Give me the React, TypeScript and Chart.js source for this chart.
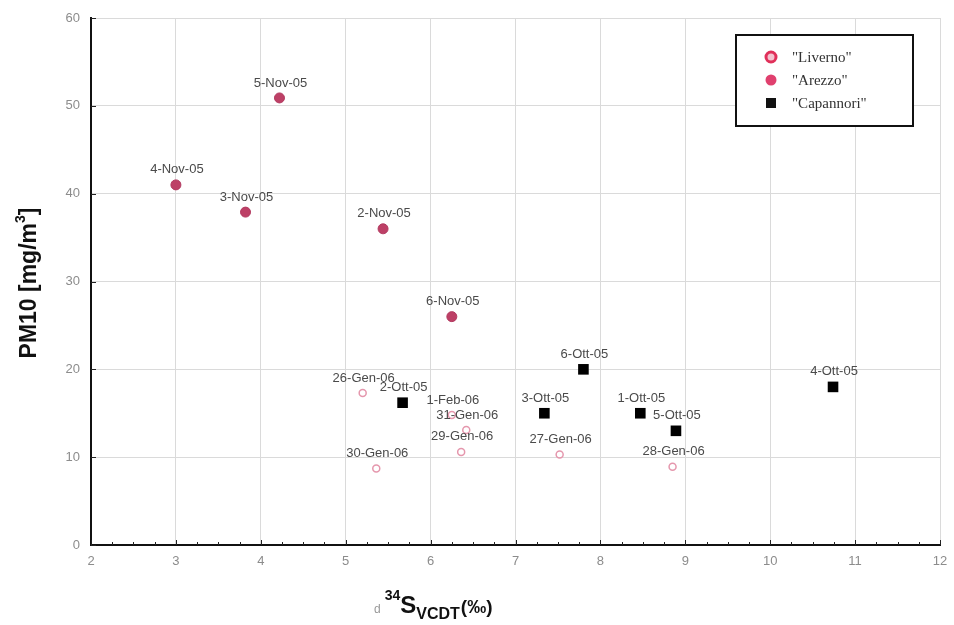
import React, { useEffect, useRef } from "react";
import { Chart, registerables } from "chart.js";

Chart.register(...registerables);

const livornoLabels = ["26-Gen-06", "30-Gen-06", "1-Feb-06", "31-Gen-06", "29-Gen-06", "27-Gen-06", "28-Gen-06"];
const livornoX = [5.2, 5.36, 6.25, 6.42, 6.36, 7.52, 8.85];
const livornoY = [17.3, 8.7, 14.8, 13.1, 10.6, 10.3, 8.9];

const arezzoLabels = ["5-Nov-05", "4-Nov-05", "3-Nov-05", "2-Nov-05", "6-Nov-05"];
const arezzoX = [4.22, 3.0, 3.82, 5.44, 6.25];
const arezzoY = [50.9, 41.0, 37.9, 36.0, 26.0];

const capannoriLabels = ["2-Ott-05", "6-Ott-05", "3-Ott-05", "1-Ott-05", "5-Ott-05", "4-Ott-05"];
const capannoriX = [5.67, 7.8, 7.34, 8.47, 8.89, 10.74];
const capannoriY = [16.2, 20.0, 15.0, 15.0, 13.0, 18.0];

const legendNames = ['"Liverno"', '"Arezzo"', '"Capannori"'];

const xMin = 2, xMax = 12, xStep = 1;
const yMin = 0, yMax = 60, yStep = 10;

const toPts = (xs: number[], ys: number[]) => xs.map((x, i) => ({ x, y: ys[i] }));

const SANS = "'Liberation Sans', Arial, sans-serif";

const overlayPlugin = {
  id: "overlay",
  afterDatasetsDraw(chart: any) {
    const ctx = chart.ctx;
    const xs = chart.scales.x;
    const ys = chart.scales.y;
    const area = chart.chartArea;
    ctx.save();
    ctx.strokeStyle = "#222";
    ctx.lineWidth = 1;
    for (let v = xMin; v <= xMax + 1e-9; v += 0.25) {
      const px = Math.round(xs.getPixelForValue(v)) + 0.5;
      const major = Math.abs(v - Math.round(v)) < 1e-9;
      ctx.beginPath();
      ctx.moveTo(px, area.bottom);
      ctx.lineTo(px, area.bottom - (major ? 5 : 3));
      ctx.stroke();
    }
    for (let v = yMin; v <= yMax + 1e-9; v += yStep) {
      const py = Math.round(ys.getPixelForValue(v)) + 0.5;
      ctx.beginPath();
      ctx.moveTo(area.left, py);
      ctx.lineTo(area.left + 5, py);
      ctx.stroke();
    }
    ctx.font = "13px " + SANS;
    ctx.fillStyle = "#4a4a4a";
    ctx.textAlign = "center";
    ctx.textBaseline = "middle";
    const groups: [string[], number[], number[]][] = [
      [livornoLabels, livornoX, livornoY],
      [arezzoLabels, arezzoX, arezzoY],
      [capannoriLabels, capannoriX, capannoriY],
    ];
    for (const [labs, gx, gy] of groups) {
      labs.forEach((l, i) => {
        const px = xs.getPixelForValue(gx[i]);
        const py = ys.getPixelForValue(gy[i]);
        ctx.fillText(l, px + 1, py - 15);
      });
    }
    const lx = 736, ly = 35, lw = 177, lh = 91;
    ctx.fillStyle = "#fff";
    ctx.fillRect(lx, ly, lw, lh);
    ctx.strokeStyle = "#111";
    ctx.lineWidth = 2;
    ctx.strokeRect(lx, ly, lw, lh);
    ctx.font = "15px 'Liberation Serif', 'Times New Roman', serif";
    ctx.textAlign = "left";
    const rowY = [ly + 22, ly + 45, ly + 68];
    ctx.beginPath();
    ctx.arc(771, rowY[0], 5, 0, Math.PI * 2);
    ctx.fillStyle = "#f4c2cf";
    ctx.fill();
    ctx.strokeStyle = "#e0305a";
    ctx.lineWidth = 3;
    ctx.stroke();
    ctx.beginPath();
    ctx.arc(771, rowY[1], 5.5, 0, Math.PI * 2);
    ctx.fillStyle = "#e0406e";
    ctx.fill();
    ctx.fillStyle = "#111";
    ctx.fillRect(766, rowY[2] - 5, 10, 10);
    ctx.fillStyle = "#333";
    legendNames.forEach((n, i) => ctx.fillText(n, 792, rowY[i] + 1));

    ctx.save();
    ctx.translate(30, 283);
    ctx.rotate(-Math.PI / 2);
    ctx.fillStyle = "#111";
    const big = "bold 23px " + SANS;
    const small = "bold 14px " + SANS;
    ctx.font = big;
    const t1 = "PM10 [mg/m";
    const w1 = ctx.measureText(t1).width;
    const w3 = ctx.measureText("]").width;
    ctx.font = small;
    const w2 = ctx.measureText("3").width;
    const total = w1 + w2 + w3;
    let sx = -total / 2;
    ctx.textAlign = "left";
    ctx.font = big;
    ctx.fillText(t1, sx, 0);
    sx += w1;
    ctx.font = small;
    ctx.fillText("3", sx, -9);
    sx += w2;
    ctx.font = big;
    ctx.fillText("]", sx, 0);
    ctx.restore();

    ctx.textAlign = "left";
    ctx.textBaseline = "alphabetic";
    let cx = 374;
    ctx.fillStyle = "#999";
    ctx.font = "12px " + SANS;
    ctx.fillText("d", cx, 613);
    cx += ctx.measureText("d").width + 4;
    ctx.fillStyle = "#111";
    ctx.font = "bold 14px " + SANS;
    ctx.fillText("34", cx, 600);
    cx += ctx.measureText("34").width;
    ctx.font = "bold 24px " + SANS;
    ctx.fillText("S", cx, 613);
    cx += ctx.measureText("S").width;
    ctx.font = "bold 16px " + SANS;
    ctx.fillText("VCDT", cx, 619);
    cx += ctx.measureText("VCDT").width + 1;
    ctx.font = "bold 19px " + SANS;
    ctx.fillText("(‰)", cx, 613);
    ctx.restore();
  },
};

export default function App() {
  const ref = useRef<HTMLCanvasElement>(null);
  useEffect(() => {
    if (!ref.current) return;
    const chart = new Chart(ref.current, {
      type: "scatter",
      data: {
        datasets: [
          {
            label: legendNames[0],
            data: toPts(livornoX, livornoY),
            pointStyle: "circle",
            pointRadius: 3.5,
            borderWidth: 1.5,
            borderColor: "#e597ad",
            backgroundColor: "rgba(255,255,255,0)",
          },
          {
            label: legendNames[1],
            data: toPts(arezzoX, arezzoY),
            pointStyle: "circle",
            pointRadius: 5,
            borderWidth: 1,
            borderColor: "#b23a60",
            backgroundColor: "#bd4066",
          },
          {
            label: legendNames[2],
            data: toPts(capannoriX, capannoriY),
            pointStyle: "rect",
            pointRadius: 7.5,
            borderWidth: 0,
            borderColor: "#000",
            backgroundColor: "#000",
          },
        ],
      },
      options: {
        responsive: false,
        animation: false,
        layout: { padding: { left: 0, right: 14, top: 18, bottom: 0 } },
        plugins: { legend: { display: false }, tooltip: { enabled: false } },
        scales: {
          x: {
            type: "linear",
            min: xMin,
            max: xMax,
            ticks: {
              stepSize: xStep,
              color: "#8c8c8c",
              font: { size: 13, family: SANS },
              padding: 9,
            },
            grid: { color: "#dadada", lineWidth: 1, drawTicks: false },
            border: { display: true, color: "#111", width: 2 },
            afterFit: (s: any) => { s.height = 80; s.paddingLeft = 0; s.paddingRight = 0; },
          },
          y: {
            type: "linear",
            min: yMin,
            max: yMax,
            ticks: {
              stepSize: yStep,
              color: "#8c8c8c",
              font: { size: 13, family: SANS },
              padding: 11,
            },
            grid: { color: "#dadada", lineWidth: 1, drawTicks: false },
            border: { display: true, color: "#111", width: 2 },
            afterFit: (s: any) => { s.width = 91; s.paddingTop = 0; s.paddingBottom = 0; },
          },
        },
      },
      plugins: [overlayPlugin],
    });
    return () => chart.destroy();
  }, []);
  return (
    <div style={{ position: "fixed", left: 0, top: 0, width: 954, height: 625, background: "#fff" }}>
      <canvas ref={ref} width={954} height={625} style={{ display: "block" }} />
    </div>
  );
}
